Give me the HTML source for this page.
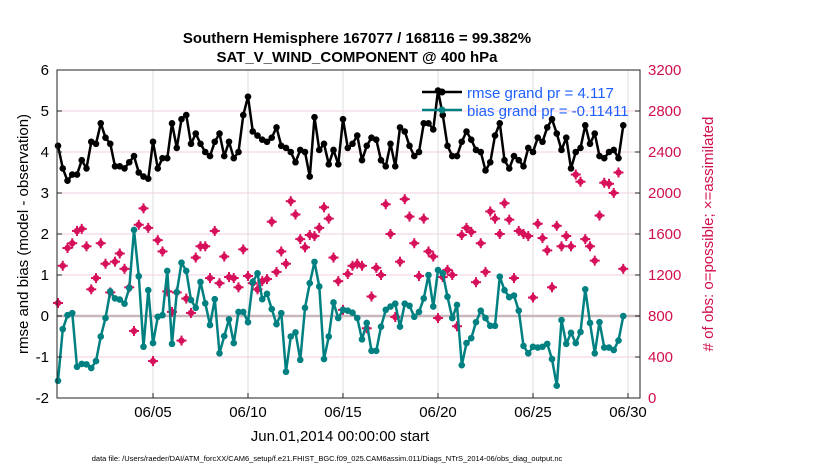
<!DOCTYPE html>
<html><head><meta charset="utf-8"><style>
body{margin:0;background:#fff;font-family:"Liberation Sans",sans-serif}
svg text{font-family:"Liberation Sans",sans-serif}
</style></head><body>
<svg id="chart" width="830" height="470" viewBox="0 0 830 470" xmlns="http://www.w3.org/2000/svg">
<rect width="830" height="470" fill="#fff"/>
<g id="grid"></g>
<g id="series"></g>
<rect x="57" y="70" width="583" height="328" fill="none" stroke="#222" stroke-width="1"/>
<g id="axes"></g>
<text x="357" y="43" font-size="15" font-weight="bold" text-anchor="middle">Southern Hemisphere 167077 / 168116 = 99.382%</text>
<text x="357" y="62" font-size="15" font-weight="bold" text-anchor="middle">SAT_V_WIND_COMPONENT @ 400 hPa</text>
<text x="340" y="441" font-size="15" text-anchor="middle">Jun.01,2014 00:00:00 start</text>
<text transform="translate(28,234) rotate(-90)" font-size="15" text-anchor="middle">rmse and bias (model - observation)</text>
<text transform="translate(713,234) rotate(-90)" font-size="15" fill="#d0104c" text-anchor="middle"># of obs: o=possible; ×=assimilated</text>
<text x="327" y="461" font-size="7.5" text-anchor="middle">data file: /Users/raeder/DAI/ATM_forcXX/CAM6_setup/f.e21.FHIST_BGC.f09_025.CAM6assim.011/Diags_NTrS_2014-06/obs_diag_output.nc</text>
<g>
<line x1="422" y1="92" x2="462" y2="92" stroke="#000" stroke-width="2.5"/>
<circle cx="442" cy="92" r="3.5" fill="#000"/>
<text x="467" y="98" font-size="15" fill="#1f5fff">rmse grand pr = 4.117</text>
<line x1="422" y1="110" x2="462" y2="110" stroke="#008080" stroke-width="2.5"/>
<circle cx="442" cy="110" r="3.5" fill="#008080"/>
<text x="467" y="116" font-size="15" fill="#1f5fff">bias grand pr = -0.11411</text>
</g>
</svg>
<script>
const rmse=[4.15,3.6,3.3,3.45,3.45,3.8,3.6,4.25,4.2,4.7,4.35,4.2,3.65,3.65,3.6,3.75,3.9,3.5,3.4,3.35,4.25,3.6,3.85,3.85,4.7,4.1,4.8,4.9,4.2,4.45,
4.2,4.0,3.9,4.25,4.45,3.9,4.25,3.85,4.0,4.9,5.35,4.5,4.4,4.3,4.25,4.35,4.6,4.15,4.1,4.0,3.75,4.05,4.0,3.4,4.85,4.05,4.2,3.7,4.05,
3.7,4.8,4.1,4.2,4.4,3.8,4.15,4.35,4.3,3.8,3.65,4.2,3.65,4.6,4.5,4.15,3.9,4.0,4.7,4.7,4.55,5.5,4.9,4.15,3.9,3.9,4.25,4.5,4.3,
4.05,4.0,3.55,3.75,4.4,4.7,3.8,3.6,3.9,3.8,3.65,4.1,4.0,4.35,4.25,4.6,4.8,4.45,4.05,4.35,3.6,4.0,4.1,4.65,4.2,4.45,3.9,3.85,4.0,4.05,3.85,4.65];
const bias=[-1.58,-0.32,0.02,0.07,-1.24,-1.17,-1.18,-1.27,-1.1,-0.5,-0.05,0.6,0.43,0.4,0.3,0.68,2.1,0.97,-0.75,0.63,-0.66,-0.02,0.02,1.1,-0.68,0.58,1.3,1.1,0.39,0.2,
0.83,0.31,-0.22,0.41,-0.91,-0.49,-0.08,-0.66,0.1,0.1,-0.15,0.83,1.04,0.41,0.54,0.17,-0.2,0.07,-1.36,-0.5,-0.4,-1.07,0.2,0.8,1.32,0.72,-1.05,-0.5,0.33,
-0.05,0.15,0.13,0.08,-0.05,-0.57,-0.17,-0.85,-0.85,-0.26,0.15,0.23,0.3,-0.26,0.3,0.25,-0.02,0.1,0.43,1.0,0.23,1.12,1.04,0.47,-0.05,0.27,-1.2,-0.66,-0.54,
-0.15,0.13,-0.05,-0.24,-0.24,0.96,0.63,0.46,0.5,0.13,-0.73,-0.91,-0.75,-0.77,-0.75,-0.68,-1.05,-1.7,-0.1,-0.68,-0.41,-0.66,-0.39,0.65,-0.17,-0.91,-0.15,-0.77,-0.77,-0.83,-0.6,0.0];
const obsCount=[927,1290,1463,1510,1630,1650,1480,1060,1170,1510,1310,1030,1330,1410,1260,1080,654,1690,1850,1660,360,1540,1430,1040,840,1030,560,970,830,1370,
1480,1480,1170,1630,1120,1380,1180,1170,1080,1450,1190,1120,1060,1140,1160,1720,1230,1430,1310,1920,1790,1550,1470,1590,1580,1660,1860,1750,1370,
1140,860,1210,1290,1310,1290,680,990,1270,1200,1890,1600,790,1330,1940,1770,1510,1190,1750,1430,1380,780,1180,1250,1200,700,1590,1660,1620,
1130,1510,1230,1820,1750,1600,1900,1740,1170,1630,1600,1580,980,1700,1560,1440,1080,1680,1480,1580,1480,2180,2110,1550,1480,1340,1780,2100,2090,2000,2200,1260];
const xTickDays=[5,10,15,20,25,30];
const xTickLabels=["06/05","06/10","06/15","06/20","06/25","06/30"];
const yTicks=[6,5,4,3,2,1,0,-1,-2];
const y2Ticks=[3200,2800,2400,2000,1600,1200,800,400,0];
const stepDays=0.25;

const NS="http://www.w3.org/2000/svg";
const X0=57,X1=640,Y0=70,Y1=398;
const xs=d=>58+d*19;
const ys=v=>Y1-(v+2)/8*(Y1-Y0);
const ys2=v=>Y1-v/3200*(Y1-Y0);
function mk(tag,attrs,parent){const e=document.createElementNS(NS,tag);for(const k in attrs)e.setAttribute(k,attrs[k]);parent.appendChild(e);return e;}
const grid=document.getElementById('grid'),ser=document.getElementById('series'),axes=document.getElementById('axes');
yTicks.forEach(v=>{
 const y=ys(v);
 if(v!==6&&v!==-2){const l=mk('line',{x1:X0,x2:X1,y1:y,y2:y,stroke:'#f1cfe0','stroke-width':1},grid);
 
 }
 mk('line',{x1:X0,x2:X0+5,y1:y,y2:y,stroke:'#222'},axes);
 const t=mk('text',{x:X0-8,y:y+5,'font-size':15,'text-anchor':'end'},axes);t.textContent=v;
 
 
});
y2Ticks.forEach(v=>{
 const y=ys2(v);
 mk('line',{x1:X1-5,x2:X1,y1:y,y2:y,stroke:'#222'},axes);
 const t=mk('text',{x:X1+8,y:y+5,'font-size':15,fill:'#d0104c'},axes);t.textContent=v;
 
 
});
xTickDays.forEach((d,i)=>{
 const x=xs(d);
 const l=mk('line',{x1:x,x2:x,y1:Y0,y2:Y1,stroke:'#ddd'},grid);
 
 
 mk('line',{x1:x,x2:x,y1:Y1-5,y2:Y1,stroke:'#222'},axes);
 const t=mk('text',{x:x,y:417,'font-size':15,'text-anchor':'middle'},axes);t.textContent=xTickLabels[i];
 
 
});
const z=mk('line',{x1:X0,x2:X1,y1:ys(0),y2:ys(0),stroke:'#c8b8bd','stroke-width':2.5},grid);


// obs points
obsCount.forEach((v,i)=>{
 const x=xs(i*stepDays),y=ys2(v);
 const g=mk('g',{fill:'#d6105a'},ser);
 
 
 mk('circle',{cx:x,cy:y,r:3.2},g);
 mk('rect',{x:x-1,y:y-5,width:2,height:10},g);
 mk('rect',{x:x-5,y:y-1,width:10,height:2},g);
});
function line(arr,color,name){
 const pts=arr.map((v,i)=>xs(i*stepDays).toFixed(1)+','+ys(v).toFixed(1)).join(' ');
 const p=mk('polyline',{points:pts,fill:'none',stroke:color,'stroke-width':2.5,'stroke-linejoin':'round'},ser);
 
 
 arr.forEach((v,i)=>{const c=mk('circle',{cx:xs(i*stepDays),cy:ys(v),r:3.3,fill:color},ser);
 
 });
}
line(bias,'#008080','bias');
line(rmse,'#000','rmse');
</script>
</body></html>
